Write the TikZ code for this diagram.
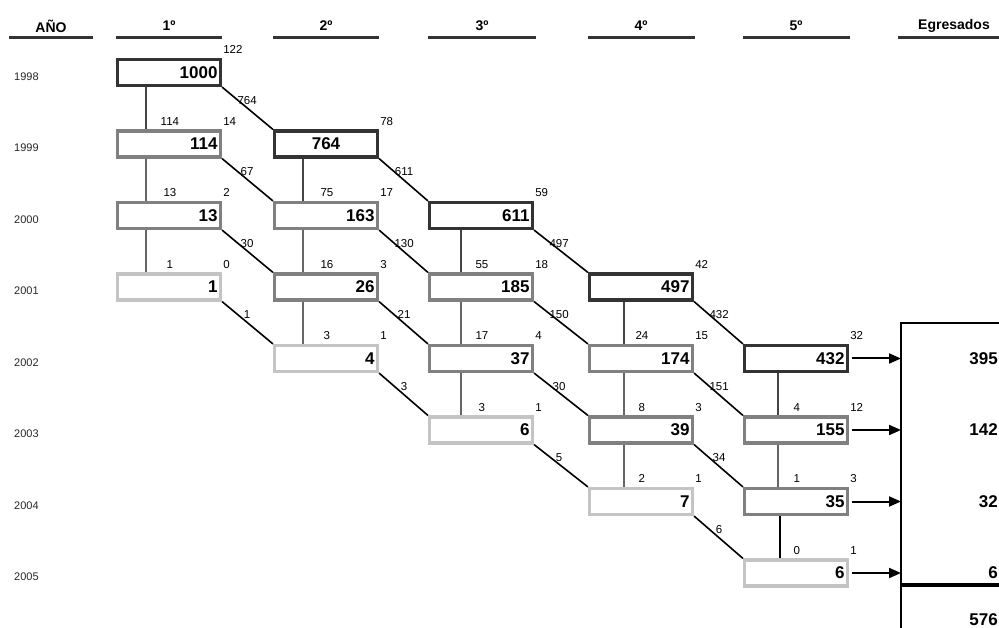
\documentclass[tikz,border=0pt]{standalone}
\usepackage{fontspec}
\setmainfont{Liberation Sans}
\usetikzlibrary{calc,arrows.meta}
\definecolor{boxdark}{HTML}{333333}
\definecolor{boxmid}{HTML}{808080}
\definecolor{boxlight}{HTML}{C4C4C4}
\definecolor{vdark}{HTML}{444444}
\definecolor{vmid}{HTML}{666666}
\definecolor{hdr}{HTML}{333333}
\begin{document}
\begin{tikzpicture}[x=1pt,y=-1pt,
  box/.style={draw, line width=3.2pt, inner xsep=3pt, inner ysep=0pt,
    text width=97pt, minimum height=26pt, align=right,
    font=\fontsize{17}{17}\selectfont\bfseries},
  dark/.style={box, draw=boxdark},
  darkc/.style={box, draw=boxdark, align=center},
  mid/.style={box, draw=boxmid},
  light/.style={box, draw=boxlight},
  small/.style={inner sep=0pt, font=\fontsize{11.5}{12}\selectfont},
  yearlbl/.style={inner sep=0pt, anchor=west, text=black!85, font=\fontsize{11}{12}\selectfont},
  header/.style={inner sep=0pt, font=\fontsize{14}{14}\selectfont\bfseries},
  hline/.style={draw=hdr, line width=2.2pt},
  vline/.style={line width=2.4pt},
  dline/.style={draw=black, line width=1.6pt},
  outarrow/.style={draw=black, line width=2pt, -{Triangle[length=12pt,width=10pt]}},
  total/.style={inner sep=0pt, anchor=east, font=\fontsize{17}{17}\selectfont\bfseries},
]
\useasboundingbox (0,0) rectangle (999,628);

% headers
\foreach \n/\t/\x/\a/\b in {h0/AÑO/51/9/93, h1/1º/169/116/222, h2/2º/326/273/379, h3/3º/482/428/536, h4/4º/641/588/695, h5/5º/796/743/850, h6/Egresados/954/898/999}{
  \node[header] (\n) at (\x,26) {\t};
  \draw[hline] (\a,37.5) -- (\b,37.5);
}

% year labels
\foreach \y [count=\i from 0] in {1998,1999,2000,2001,2002,2003,2004,2005}{
  \pgfmathsetmacro\yc{76.5+71.5*\i}
  \node[yearlbl] (y\y) at (14,\yc) {\y};
}

% boxes
\foreach \c/\r/\v/\s in {1/0/1000/dark,1/1/114/mid,1/2/13/mid,1/3/1/light,
  2/1/764/darkc,2/2/163/mid,2/3/26/mid,2/4/4/light,
  3/2/611/dark,3/3/185/mid,3/4/37/mid,3/5/6/light,
  4/3/497/dark,4/4/174/mid,4/5/39/mid,4/6/7/light,
  5/4/432/dark,5/5/155/mid,5/6/35/mid,5/7/6/light}{
  \pgfmathsetmacro\xc{{169,326,481,641,796}[\c-1]}
  \pgfmathsetmacro\yc{72.5+71.5*\r}
  \node[\s] (b\c\r) at (\xc,\yc) {\v};
}

% right labels above boxes
\foreach \c/\r/\v in {1/0/122,1/1/14,1/2/2,1/3/0,2/1/78,2/2/17,2/3/3,2/4/1,
  3/2/59,3/3/18,3/4/4,3/5/1,4/3/42,4/4/15,4/5/3,4/6/1,5/4/32,5/5/12,5/6/3,5/7/1}{
  \node[small, anchor=west] (r\c\r) at ($(b\c\r.north east)+(1,-8)$) {\v};
}
% left labels above boxes
\foreach \c/\r/\v in {1/1/114,1/2/13,1/3/1,2/2/75,2/3/16,2/4/3,3/3/55,3/4/17,3/5/3,
  4/4/24,4/5/8,4/6/2,5/5/4,5/6/1,5/7/0}{
  \node[small] (l\c\r) at ($(b\c\r.north west)+(54,-8)$) {\v};
}

% vertical connectors
\foreach \c/\r/\o/\col in {1/0/30/vdark,1/1/30/vmid,1/2/30/vmid,
  2/1/30/vdark,2/2/30/vmid,2/3/30/vmid,
  3/2/33/vdark,3/3/33/vmid,3/4/33/vmid,
  4/3/36/vdark,4/4/36/vmid,4/5/36/vmid,
  5/4/35/vdark,5/5/35/vmid,5/6/37/black}{
  \pgfmathtruncatemacro\rn{\r+1}
  \draw[vline, draw=\col] ($(b\c\r.south west)+(\o,0)$) -- ($(b\c\rn.north west)+(\o,0)$);
}

% diagonal connectors
\foreach \c/\r/\v in {1/0/764,1/1/67,1/2/30,1/3/1,2/1/611,2/2/130,2/3/21,2/4/3,
  3/2/497,3/3/150,3/4/30,3/5/5,4/3/432,4/4/151,4/5/34,4/6/6}{
  \pgfmathtruncatemacro\cn{\c+1}
  \pgfmathtruncatemacro\rn{\r+1}
  \draw[dline] (b\c\r.south east) -- (b\cn\rn.north west);
  \node[small] (d\c\r) at ($(b\c\r.south east)+(25,13)$) {\v};
}

% graduates box
\coordinate (gtl) at (901,323);
\coordinate (gtr) at (999,323);
\coordinate (gbl) at (901,628);
\draw[draw=black, line width=2pt] (gtr) -- (gtl) -- (gbl);
\coordinate (gml) at (901,585);
\coordinate (gmr) at (999,585);
\draw[draw=black, line width=3.5pt] (gml) -- (gmr);

\foreach \r/\v in {4/395,5/142,6/32,7/6}{
  \pgfmathsetmacro\yc{72.5+71.5*\r}
  \coordinate (e\r) at (901,\yc);
  \node[total] (g\r) at (998,\yc) {\v};
  \draw[outarrow] ($(b5\r.east)+(3,0)$) -- (e\r);
}
\node[total] (gsum) at (998,620) {576};
\end{tikzpicture}
\end{document}
